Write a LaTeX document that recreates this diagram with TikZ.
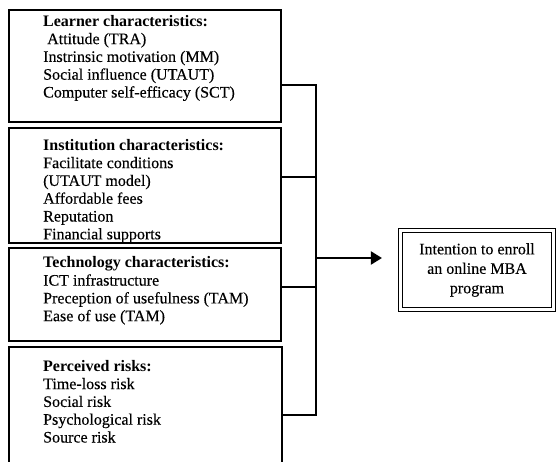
\documentclass[tikz,border=0pt]{standalone}
\usepackage{fontspec}
\setmainfont{Liberation Serif}[UprightFeatures={FakeBold=0.3}]
\usetikzlibrary{arrows.meta,positioning,calc}

\tikzset{
  factorbox/.style={draw,line width=1.6pt,minimum width=272pt,anchor=north west,inner sep=0pt},
  factortext/.style={anchor=north west,align=left,inner sep=0pt,font=\fontsize{16}{17.8}\selectfont},
  link/.style={line width=2.6pt},
  goalbox/.style={draw,double,line width=1.1pt,double distance=2.2pt,minimum width=153pt,minimum height=79pt,align=center,font=\fontsize{16}{19.5}\selectfont}
}

\begin{document}
\begin{tikzpicture}[x=1pt,y=-1pt]
\useasboundingbox (0,0) rectangle (557,462);
\clip (0,0) rectangle (557,462);
% factor boxes
\node[factorbox,minimum height=112pt] (learner) at (8,9) {};
\node[factorbox,minimum height=115pt] (institution) at (8,127) {};
\node[factorbox,minimum height=93pt] (technology) at (8,247) {};
\node[factorbox,minimum height=140pt,minimum width=273pt] (risks) at (8,346) {};
% lists inside the boxes
\node[factortext] (learnerlist) at ($(learner.north west)+(35,6)$)
  {\textbf{Learner characteristics:}\\\hspace*{0.25em}Attitude (TRA)\\Instrinsic motivation (MM)\\Social influence (UTAUT)\\Computer self-efficacy (SCT)};
\node[factortext] (institutionlist) at ($(institution.north west)+(35,12)$)
  {\textbf{Institution characteristics:}\\Facilitate conditions\\(UTAUT model)\\Affordable fees\\Reputation\\Financial supports};
\node[factortext] (technologylist) at ($(technology.north west)+(35,9.5)$)
  {\textbf{Technology characteristics:}\\ICT infrastructure\\Preception of usefulness (TAM)\\Ease of use (TAM)};
\node[factortext] (riskslist) at ($(risks.north west)+(35,14)$)
  {\textbf{Perceived risks:}\\Time-loss risk\\Social risk\\Psychological risk\\Source risk};
% outcome
\node[goalbox] (goal) at (477,270) {Intention to enroll\\an online MBA\\program};
% bus
\coordinate (bus1) at (316,85);
\coordinate (bus2) at (316,177);
\coordinate (busout) at (316,258);
\coordinate (bus3) at (316,287);
\coordinate (bus4) at (316,415);
\draw[link] (learner.east |- bus1) -- (bus1) -- (bus4) -- (risks.east |- bus4);
\draw[link] (institution.east |- bus2) -- (bus2);
\draw[link] (technology.east |- bus3) -- (bus3);
\draw[line width=2pt,-{Triangle[length=11pt,width=13pt]},shorten >=18pt] (busout) -- (goal.west |- busout);
\end{tikzpicture}
\end{document}
